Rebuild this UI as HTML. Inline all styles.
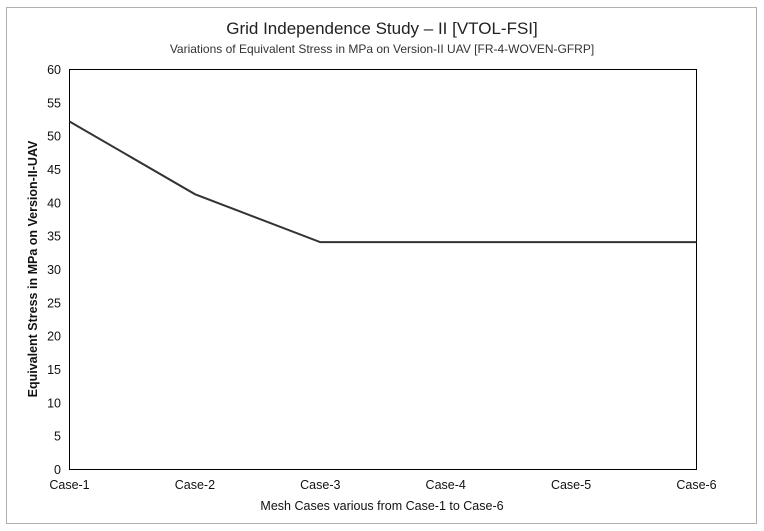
<!DOCTYPE html>
<html><head><meta charset="utf-8"><style>
body{margin:0;background:#fff;}
svg{display:block;font-family:"Liberation Sans",sans-serif;}
</style></head><body>
<svg id="chart" width="764" height="531">
<rect x="6.5" y="7.5" width="750" height="516" fill="#fff" stroke="#b0b0b0"/>
<text x="382" y="34" text-anchor="middle" font-size="17" fill="#222">Grid Independence Study – II [VTOL-FSI]</text>
<text x="382" y="53" text-anchor="middle" font-size="12" fill="#333">Variations of Equivalent Stress in MPa on Version-II UAV [FR-4-WOVEN-GFRP]</text>
<rect x="69.5" y="69.5" width="627" height="400" fill="none" stroke="#000"/>
<text transform="translate(37,269) rotate(-90)" text-anchor="middle" font-size="12.5" font-weight="bold" fill="#111">Equivalent Stress in MPa on Version-II-UAV</text>
<text x="382" y="510" text-anchor="middle" font-size="12.5" fill="#111">Mesh Cases various from Case-1 to Case-6</text>
<g id="yt"></g><g id="xt"></g><g id="ser"></g>
</svg>
<script>
const categories=["Case-1","Case-2","Case-3","Case-4","Case-5","Case-6"];
const stressValues=[52.2,41.3,34.1,34.1,34.1,34.1];
const yTicks=[0,5,10,15,20,25,30,35,40,45,50,55,60];
const L=69.5,R=696.5,T=69.5,B=469.5,YMAX=60;
const ns="http://www.w3.org/2000/svg";
function xs(i){return L+(R-L)*i/(categories.length-1);}
function ys(v){return B-(B-T)*v/YMAX;}
const yt=document.getElementById('yt'),xt=document.getElementById('xt'),ser=document.getElementById('ser');
yTicks.forEach(v=>{const t=document.createElementNS(ns,'text');
t.setAttribute('x',61);t.setAttribute('y',ys(v)+4.5);t.setAttribute('text-anchor','end');t.setAttribute('font-size','12.5');t.setAttribute('fill','#111');


t.textContent=v;yt.appendChild(t);});
categories.forEach((c,i)=>{const t=document.createElementNS(ns,'text');
let anchor='middle';if(i===0)anchor='start';if(i===categories.length-1)anchor='end';
let x=xs(i);if(i===0)x=L-22;if(i===categories.length-1)x=R+22;
t.setAttribute('x',x);t.setAttribute('y',489);t.setAttribute('text-anchor','middle');t.setAttribute('font-size','12.5');t.setAttribute('fill','#111');
t.setAttribute('x',xs(i));


t.textContent=c;xt.appendChild(t);});
const p=document.createElementNS(ns,'polyline');
p.setAttribute('points',stressValues.map((v,i)=>xs(i)+','+ys(v)).join(' '));
p.setAttribute('fill','none');p.setAttribute('stroke','#333');p.setAttribute('stroke-width','2');


ser.appendChild(p);
</script>
</body></html>
